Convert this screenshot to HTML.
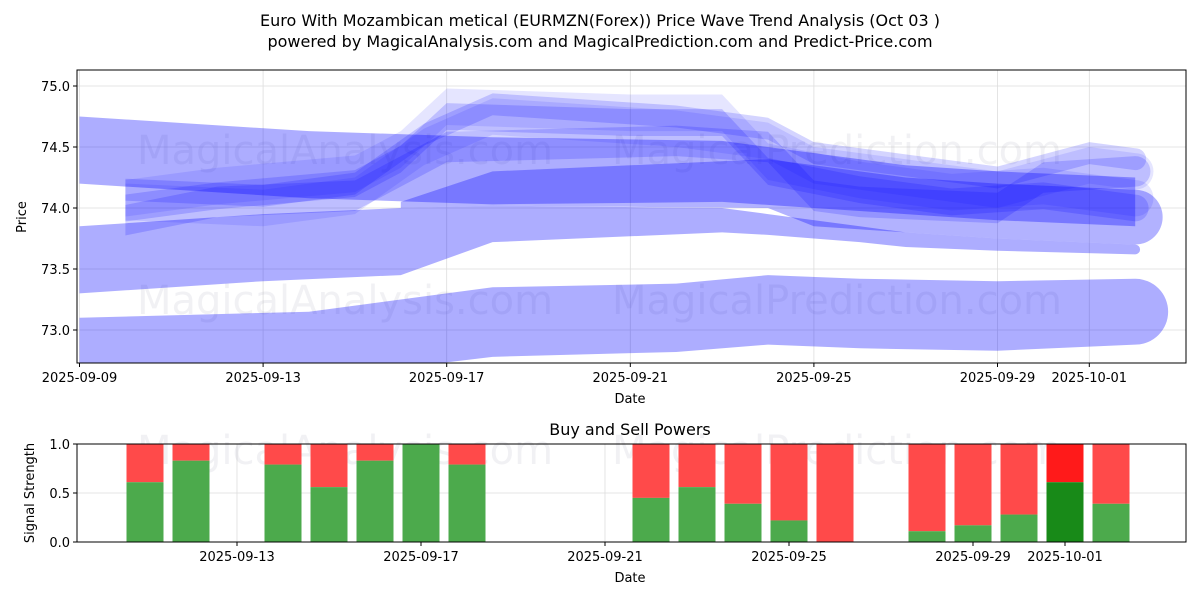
<!DOCTYPE html>
<html><head><meta charset="utf-8"><style>
body{margin:0;background:#fff;font-family:"Liberation Sans","DejaVu Sans",sans-serif}
text{font-family:"DejaVu Sans","Liberation Sans",sans-serif}
</style></head><body>
<svg id="c" width="1200" height="600" viewBox="0 0 1200 600">
<text x="600" y="26" text-anchor="middle" font-size="16">Euro With Mozambican metical (EURMZN(Forex)) Price Wave Trend Analysis (Oct 03 )</text>
<text x="600" y="47" text-anchor="middle" font-size="16">powered by MagicalAnalysis.com and MagicalPrediction.com and Predict-Price.com</text>
<g id="topg"></g>
<g id="botg"></g>
</svg>
<script>
const priceTicks=[73.0,73.5,74.0,74.5,75.0];
const dateTicks=["2025-09-09","2025-09-13","2025-09-17","2025-09-21","2025-09-25","2025-09-29","2025-10-01"];
const dateTickDays=[0,4,8,12,16,20,22];
const bandA_days=[0,5,9,13,15,17,20,23];
const bandA_top=[73.1,73.15,73.35,73.38,73.45,73.42,73.4,73.42];
const bandA_bot=[72.55,72.6,72.78,72.82,72.88,72.85,72.83,72.88];
const bandB_days=[0,4,7,9,14,15,17,18,20,23];
const bandB_top=[73.85,73.95,74.0,74.02,74.0,73.95,73.85,73.8,73.75,73.7];
const bandB_bot=[73.3,73.4,73.45,73.72,73.8,73.78,73.72,73.68,73.65,73.62];
const bandC_days=[7,9,15,16,18,20,23];
const bandC_top=[74.05,74.3,74.4,74.35,74.25,74.2,74.15];
const bandC_bot=[74.0,74.02,74.0,73.85,73.8,73.75,73.7];
const bandD_days=[0,5,9,14,16,18,20,23];
const bandD_top=[74.75,74.63,74.58,74.55,74.45,74.35,74.3,74.25];
const bandD_bot=[74.2,74.08,74.03,74.05,74.0,73.95,73.9,73.85];
const waveE_days=[1,3,6,7,8,12,14,15,17,19,21,23];
const waveE=[74.0,74.1,74.2,74.4,74.75,74.7,74.7,74.3,74.15,74.05,74.1,74.0];
const waveF_days=[1,4,6,7.5,9,13,15,16,18,20,22,23];
const waveF=[74.15,74.1,74.2,74.6,74.85,74.75,74.65,74.45,74.35,74.25,74.45,74.4];
const waveG_days=[1,3,6,7,8,13,15,16,17,20,21,23];
const waveG=[73.9,74.05,74.1,74.3,74.5,74.55,74.5,74.1,74.05,74.0,74.25,74.3];
const barDays=[2,3,5,6,7,8,9,13,14,15,16,17,19,20,21,22,23];
const buyPower=[0.61,0.83,0.79,0.56,0.83,1.0,0.79,0.45,0.56,0.39,0.22,0.0,0.11,0.17,0.28,0.61,0.39];
const sigTicks=[0.0,0.5,1.0];
const NS="http://www.w3.org/2000/svg";
const X=d=>79.5+d*45.9, Y=p=>208-(p-74)*122;
const BX=d=>53+d*46, BY=v=>542-v*98;
function mk(t,a,parent){const e=document.createElementNS(NS,t);for(const k in a)e.setAttribute(k,a[k]);parent.appendChild(e);return e;}
const topG=document.getElementById('topg'),botG=document.getElementById('botg');
mk('rect',{x:77,y:70,width:1109,height:293,fill:'#fff',stroke:'none'},topG);
mk('rect',{x:77,y:444,width:1109,height:98,fill:'#fff',stroke:'none'},botG);
priceTicks.forEach(p=>{const y=Y(p);
 const g=mk('line',{x1:77,x2:1186,y1:y,y2:y,stroke:'#ddd','stroke-width':0.8},topG);
 
 mk('line',{x1:73,x2:77,y1:y,y2:y,stroke:'#000'},topG);
 const t=mk('text',{x:70,y:y+5,'text-anchor':'end','font-size':13},topG);t.textContent=p.toFixed(1);
 });
dateTickDays.forEach((d,i)=>{const x=X(d);
 mk('line',{x1:x,x2:x,y1:70,y2:363,stroke:'#ddd','stroke-width':0.8},topG);
 mk('line',{x1:x,x2:x,y1:363,y2:367,stroke:'#000'},topG);
 const t=mk('text',{x:x,y:382,'text-anchor':'middle','font-size':13},topG);t.textContent=dateTicks[i];
 });
[[345,150],[837,150],[345,300],[837,300]].forEach((w,i)=>{const t=mk('text',{x:w[0],y:w[1]+14,'text-anchor':'middle','font-size':40,fill:'rgba(150,150,170,0.13)'},topG);t.textContent=i%2?'MagicalPrediction.com':'MagicalAnalysis.com';
 });
const clip=mk('clipPath',{id:'cp'},topG);mk('rect',{x:77,y:70,width:1109,height:293},clip);
const bands=mk('g',{'clip-path':'url(#cp)'},topG);
function band(days,tp,bt,op,round,name){
 let d='M'+days.map((x,i)=>X(x)+','+Y(tp[i])).join('L');
 const n=days.length-1;
 if(round){const r=(Y(bt[n])-Y(tp[n]))/2;d+=`A${r},${r} 0 0 1 ${X(days[n])},${Y(bt[n])}`;}
 d+='L'+days.slice().reverse().map((x,i)=>X(x)+','+Y(bt[n-i])).join('L')+'Z';
 const e=mk('path',{d:d,fill:'rgba(0,0,255,'+op+')'},bands);
 }
band(bandA_days,bandA_top,bandA_bot,0.32,true,'wave-band-a');
band(bandB_days,bandB_top,bandB_bot,0.32,true,'wave-band-b');
band(bandD_days,bandD_top,bandD_bot,0.32,false,'wave-band-d');
band(bandC_days,bandC_top,bandC_bot,0.3,true,'wave-band-c');
function wave(days,c,w,op,name){
 band(days,c.map(v=>v+w/2),c.map(v=>v-w/2),op,true,name);}
wave(waveE_days,waveE,0.22,0.17,'wave-e');
wave(waveF_days,waveF,0.18,0.17,'wave-f');
wave(waveG_days,waveG,0.25,0.17,'wave-g');
wave(waveF_days,waveF.map(v=>v-0.1),0.3,0.1,'wave-f2');
wave(waveE_days,waveE.map(v=>v+0.08),0.3,0.1,'wave-e2');
mk('rect',{x:77,y:70,width:1109,height:293,fill:'none',stroke:'#000','stroke-width':1},topG);
let t=mk('text',{x:630,y:403,'text-anchor':'middle','font-size':13},topG);t.textContent='Date';

t=mk('text',{x:26,y:217,'text-anchor':'middle','font-size':13,transform:'rotate(-90 26 217)'},topG);t.textContent='Price';

t=mk('text',{x:630,y:435,'text-anchor':'middle','font-size':16},botG);t.textContent='Buy and Sell Powers';

sigTicks.forEach(v=>{const y=BY(v);
 mk('line',{x1:77,x2:1186,y1:y,y2:y,stroke:'#ddd','stroke-width':0.8},botG);
 mk('line',{x1:73,x2:77,y1:y,y2:y,stroke:'#000'},botG);
 const s=mk('text',{x:70,y:y+5,'text-anchor':'end','font-size':13},botG);s.textContent=v.toFixed(1);
 });
dateTickDays.slice(1).forEach((d,i)=>{const x=BX(d);
 mk('line',{x1:x,x2:x,y1:444,y2:542,stroke:'#ddd','stroke-width':0.8},botG);
 mk('line',{x1:x,x2:x,y1:542,y2:546,stroke:'#000'},botG);
 const s=mk('text',{x:x,y:561,'text-anchor':'middle','font-size':13},botG);s.textContent=dateTicks[i+1];
 });
[[345,450],[837,450]].forEach((w,i)=>{const s=mk('text',{x:w[0],y:w[1]+14,'text-anchor':'middle','font-size':40,fill:'rgba(150,150,170,0.13)'},botG);s.textContent=i?'MagicalPrediction.com':'MagicalAnalysis.com';
 });
barDays.forEach((d,i)=>{const x=BX(d)-18.5,v=buyPower[i];const hi=(d===22);
 const r=mk('rect',{x:x,y:BY(1),width:37,height:BY(v)-BY(1),fill:hi?'#ff1a1a':'#ff4a4a'},botG);
 
 const g=mk('rect',{x:x,y:BY(v),width:37,height:BY(0)-BY(v),fill:hi?'#188a18':'#4caa4c'},botG);
 });
mk('rect',{x:77,y:444,width:1109,height:98,fill:'none',stroke:'#000','stroke-width':1},botG);
t=mk('text',{x:630,y:582,'text-anchor':'middle','font-size':13},botG);t.textContent='Date';

t=mk('text',{x:34,y:493,'text-anchor':'middle','font-size':13,transform:'rotate(-90 34 493)'},botG);t.textContent='Signal Strength';

</script>
</body></html>
